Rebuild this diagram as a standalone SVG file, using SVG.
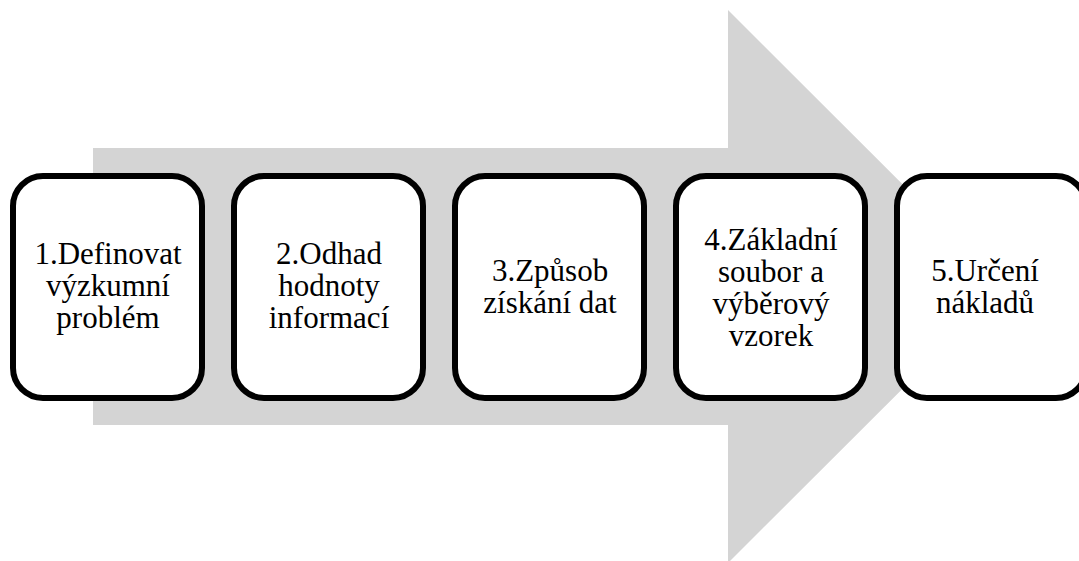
<svg xmlns="http://www.w3.org/2000/svg" width="1079" height="561" viewBox="0 0 1079 561">
  <style>
    .box { fill: #ffffff; stroke: #000000; stroke-width: 6; }
    text { font-family: "Liberation Serif", "Times New Roman", Times, serif; font-size: 31px; fill: #000000; text-anchor: middle; }
  </style>
  <rect width="1079" height="561" fill="#ffffff"/>
  <g id="arrow">
    <polygon points="93,148 728,148 728,10 1005,286.5 728,563 728,425 93,425" fill="#d4d4d4"/>
  </g>
  <g id="connectors"></g>
  <g id="node1">
    <rect class="box" x="13" y="176" width="189" height="222" rx="30" ry="30"/>
    <text x="108" y="264">1.Definovat</text>
    <text x="108" y="296">výzkumní</text>
    <text x="108" y="328">problém</text>
  </g>
  <g id="node2">
    <rect class="box" x="234" y="176" width="189" height="222" rx="30" ry="30"/>
    <text x="329" y="264">2.Odhad</text>
    <text x="329" y="296">hodnoty</text>
    <text x="329" y="328">informací</text>
  </g>
  <g id="node3">
    <rect class="box" x="455" y="176" width="189" height="222" rx="30" ry="30"/>
    <text x="550" y="281">3.Způsob</text>
    <text x="550" y="313">získání dat</text>
  </g>
  <g id="node4">
    <rect class="box" x="676" y="176" width="189" height="222" rx="30" ry="30"/>
    <text x="771" y="250">4.Základní</text>
    <text x="771" y="282">soubor a</text>
    <text x="771" y="314">výběrový</text>
    <text x="771" y="346">vzorek</text>
  </g>
  <g id="node5">
    <rect class="box" x="897" y="176" width="189" height="222" rx="30" ry="30"/>
    <text x="985" y="281">5.Určení</text>
    <text x="985" y="313">nákladů</text>
  </g>
</svg>
